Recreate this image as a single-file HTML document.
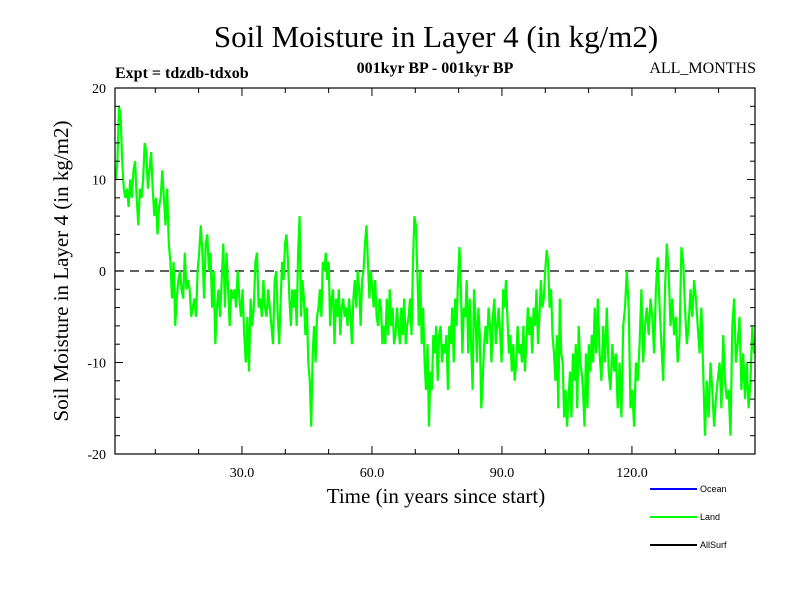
<!DOCTYPE html>
<html><head><meta charset="utf-8"><style>
body{margin:0;background:#fff}
svg text{font-family:"Liberation Serif",serif}
</style></head><body>
<svg id="chart" width="800" height="600" xmlns="http://www.w3.org/2000/svg">
<rect width="800" height="600" fill="#fff"/>
<text x="436" y="47" font-size="31" text-anchor="middle">Soil Moisture in Layer 4 (in kg/m2)</text>
<text x="115" y="78" font-size="16" font-weight="bold">Expt = tdzdb-tdxob</text>
<text x="435" y="73" font-size="16" font-weight="bold" text-anchor="middle">001kyr BP - 001kyr BP</text>
<text x="756" y="73" font-size="16" text-anchor="end">ALL_MONTHS</text>
<g id="axes"></g>
<text transform="translate(68,271) rotate(-90)" font-size="21" text-anchor="middle">Soil Moisture in Layer 4 (in kg/m2)</text>
<text x="436" y="503" font-size="21" text-anchor="middle">Time (in years since start)</text>
<g>
<line x1="650" y1="489" x2="697" y2="489" stroke="#0000ff" stroke-width="2"/>
<text x="700" y="492" font-size="9" style="font-family:'Liberation Sans',sans-serif">Ocean</text>
<line x1="650" y1="517" x2="697" y2="517" stroke="#00ff00" stroke-width="2"/>
<text x="700" y="520" font-size="9" style="font-family:'Liberation Sans',sans-serif">Land</text>
<line x1="650" y1="545" x2="697" y2="545" stroke="#000" stroke-width="2"/>
<text x="700" y="548" font-size="9" style="font-family:'Liberation Sans',sans-serif">AllSurf</text>
</g>
</svg>
<script>
const xTickValues=[30,60,90,120];
const xTickLabels=["30.0","60.0","90.0","120.0"];
const yTickValues=[20,10,0,-10,-20];
const yTickLabels=["20","10","0","-10","-20"];
// land series split into time windows (years)
const windowStarts=[0.7,38.1,75.0,111.9];
const windowEnds=[38.1,75.0,111.9,148.4];
const land1=[10,12,18,17,12,9, 8,9,7,10,8,11,12,8, 5,9,8,10,14,13,9,11,13,9, 6,8,4,7,8,11,8,5,9,3,
1,-3,1,-6,-3,-1,0,-2,-3, 2,-2,-1,-2,-5,-4,-3,-5,0, 2,5,2,-3,3,4,0,2, -4,0,-8,-4,-2,-5,-1,
3,-4,2,-2,-6,-2,-3, -2,-4,0,-3,-5,-2,-7, -10,-5,-11,-3,-6,-4, 1,2,-4,-3,-5,-1,-4, -5,-2,-4,-6,-8,-1,0];
const land2=[-5,-8,-3,1,-1,3,4,1, -3,-6,-2,-4,-2,-6,2,6,-5,-1, -3,-7,-4,-10,-12,-17,-9,-6,-10,-5,
-4,-2,-5,1,0,2,-1,1,-6,-3, -2,-8,-3,-5,-2,-7,-4,-3,-5, -4,-6,-3,-5,-8,-3,-1,-4,0,-2,
-6,-1,0,3,5,1,-3,0, -2,-4,-1,-5,-6,-3,-4,-8, -6,-8,-3,-7,-2,-6,-4,-8, -7,-4,-6,-8,-4,-7,-3,-8,-6,
-5,-3,-7,1,6,5,0,-6,0,-8, -4,-10,-13,-8,-17,-11,-13,-7,-9,-6];
const land3=[-12,-7,-6,-10,-8,-9,-7,-13, -6,-8,-4,-10,-3,-6,-1,2.6,-2,-9,-4, -5,-1,-9,-3,-8,-13,-2,-5,-10,-4,
-7,-15,-12,-8,-6,-8,-4,-6,-10, -5,-3,-8,-6,-4,-7,-10,-2,-4,-1, -5,-9,-7,-11,-8,-12,-10,-6,
-9,-8,-10,-6,-11,-8,-4,-7, -5,-9,-4,-6,-2,-8,-5,-1,-4, -3,0,2.3,1,-4,-2,-7,-9,-12,
-7,-15,-3,-9,-10,-16,-13,-17,-14, -11,-16,-9,-12,-8,-15,-6,-10,-11, -13,-17,-9,-15,-8,-11,-7,-10,-4,-9];
const land4=[-3,-9,-12,-6,-10,-4,-11, -13,-8,-11,-9,-15,-10,-16,-6, -4,0,-4,-15,-13,-17,-10,-12,
-8,-2,-10,-6,-4,-7,-3,-5, -9,-2,1.5,-4,-8,-12,-2,3, 0,-6,-3,-7,-5,-10,-7, 2.6,1,-4,-8,-6,-2,
-5,-1,-3,-6,-9,-4,-11, -18,-12,-16,-10,-13,-17,-14, -12,-10,-15,-7,-12,-14,
-13,-18,-6,-3,-10,-8,-5, -13,-9,-14,-10,-15,-12,-6,-9];
const landWindows=[land1,land2,land3,land4];
const xMin=0.7,xMax=148.4,yMin=-20,yMax=20;
const L=115,R=755,T=88,B=454;
const sx=v=>L+(v-xMin)/(xMax-xMin)*(R-L);
const sy=v=>B-(v-yMin)/(yMax-yMin)*(B-T);
const NS="http://www.w3.org/2000/svg";
const svg=document.getElementById('chart');
const axes=document.getElementById('axes');
function mk(tag,attrs,parent){const e=document.createElementNS(NS,tag);for(const k in attrs)e.setAttribute(k,attrs[k]);(parent||axes).appendChild(e);return e;}
const z=mk('line',{x1:L,x2:R,y1:sy(0),y2:sy(0),stroke:'#000','stroke-width':1.2,'stroke-dasharray':'9,6'});


const pts=[];
landWindows.forEach((arr,w)=>{const a=windowStarts[w],b=windowEnds[w],n=arr.length;
 arr.forEach((v,i)=>{const t=a+(i+0.5)*(b-a)/n;pts.push(sx(t).toFixed(1)+','+sy(v).toFixed(1));});});
const pl=mk('polyline',{points:pts.join(' '),fill:'none',stroke:'#00ff00','stroke-width':2.2},svg);


const fr=mk('rect',{x:L,y:T,width:R-L,height:B-T,fill:'none',stroke:'#000','stroke-width':1.2},svg);


for(let t=10;t<xMax;t+=10){const len=(t%30===0)?8:5;
 mk('line',{x1:sx(t),x2:sx(t),y1:B,y2:B-len,stroke:'#000'},svg);
 mk('line',{x1:sx(t),x2:sx(t),y1:T,y2:T+len,stroke:'#000'},svg);}
xTickValues.forEach((v,i)=>{const t=mk('text',{x:sx(v),y:B+23,'font-size':14,'text-anchor':'middle'},svg);t.textContent=xTickLabels[i];
 
 });
for(let v=-18;v<20;v+=2){const len=(v%10===0)?8:5;
 mk('line',{x1:L,x2:L+len,y1:sy(v),y2:sy(v),stroke:'#000'},svg);
 mk('line',{x1:R,x2:R-len,y1:sy(v),y2:sy(v),stroke:'#000'},svg);}
yTickValues.forEach((v,i)=>{const t=mk('text',{x:L-9,y:sy(v)+5,'font-size':14,'text-anchor':'end'},svg);t.textContent=yTickLabels[i];
 
 });
</script>
</body></html>
